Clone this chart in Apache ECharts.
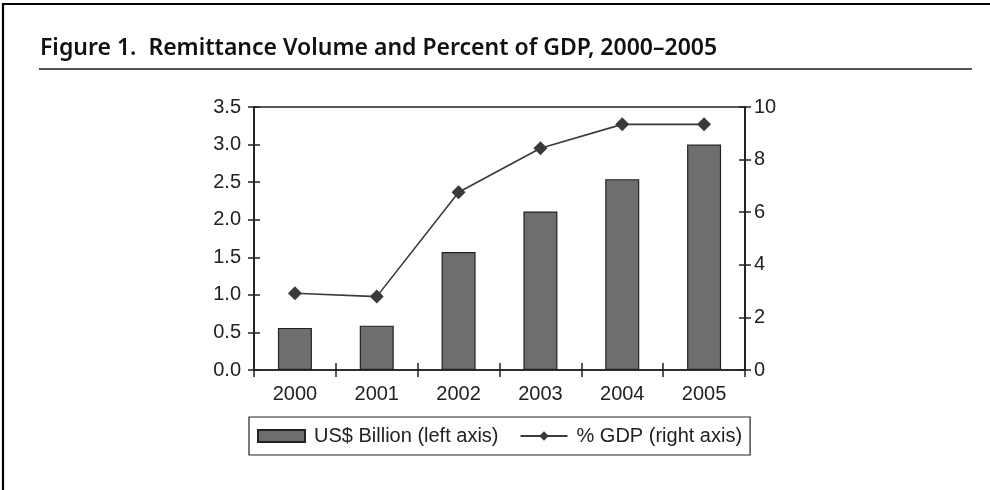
<!DOCTYPE html>
<html>
<head>
<meta charset="utf-8">
<script src="https://cdn.jsdelivr.net/npm/echarts@6/dist/echarts.min.js"></script>
<style>
  html, body { margin: 0; padding: 0; background: #fff; }
  #chart { width: 990px; height: 490px; }
</style>
</head>
<body>
<div id="chart"></div>
<script>
// Remittance volume (US$ billion) and share of GDP (%), 2000–2005
const years = ['2000', '2001', '2002', '2003', '2004', '2005'];
const usdBillion = [0.56, 0.59, 1.57, 2.11, 2.54, 3.0];
const gdpPercent = [2.92, 2.79, 6.76, 8.43, 9.34, 9.34];

const leftTicks = { min: 0, max: 3.5, interval: 0.5 };
const rightTicks = { min: 0, max: 10, interval: 2 };

const ink = '#222';
const labelFont = { color: ink, fontSize: 20, fontFamily: 'Liberation Sans, Arial, sans-serif' };

const chart = echarts.init(document.getElementById('chart'), null, { renderer: 'canvas' });

function yAxisPair(ticks, position, withLabels, inside, formatter) {
  return {
    type: 'value',
    position: position,
    min: ticks.min, max: ticks.max, interval: ticks.interval,
    axisLine: { show: true, lineStyle: { color: ink, width: 1.5 } },
    axisTick: { show: true, inside: inside, length: 6, lineStyle: { color: ink, width: 1.5 } },
    axisLabel: withLabels ? Object.assign({ margin: position === 'left' ? 13 : 9, formatter: formatter }, labelFont) : { show: false },
    splitLine: { show: false }
  };
}

chart.setOption({
  animation: false,
  backgroundColor: '#fff',
  grid: {
    left: 254, right: 245, top: 107, bottom: 120,
    show: true, borderColor: ink, borderWidth: 1.5, backgroundColor: 'transparent'
  },
  xAxis: [
    {
      type: 'category', data: years,
      axisLine: { lineStyle: { color: ink, width: 1.5 } },
      axisTick: { show: true, inside: false, length: 7, lineStyle: { color: ink, width: 1.5 } },
      axisLabel: Object.assign({ margin: 14 }, labelFont)
    },
    {
      type: 'category', data: years, position: 'bottom',
      axisLine: { show: false },
      axisTick: { show: true, inside: true, length: 7, lineStyle: { color: ink, width: 1.5 } },
      axisLabel: { show: false }
    }
  ],
  yAxis: [
    yAxisPair(leftTicks, 'left', true, false, v => v.toFixed(1)),
    yAxisPair(rightTicks, 'right', true, false, v => String(v)),
    yAxisPair(leftTicks, 'left', false, true),
    yAxisPair(rightTicks, 'right', false, true)
  ],
  legend: {
    left: 249, top: 417,
    padding: [9, 8, 9, 8],
    itemGap: 21,
    itemWidth: 47, itemHeight: 12,
    borderColor: ink, borderWidth: 1.2,
    textStyle: Object.assign({ padding: [0, 0, 0, 4] }, labelFont),
    data: [
      { name: 'US$ Billion (left axis)', icon: 'rect' },
      { name: '% GDP (right axis)' }
    ]
  },
  series: [
    {
      name: 'US$ Billion (left axis)',
      type: 'bar',
      xAxisIndex: 0, yAxisIndex: 0,
      data: usdBillion,
      barWidth: 34,
      itemStyle: { color: '#6d6e70', borderColor: ink, borderWidth: 1.2 }
    },
    {
      name: '% GDP (right axis)',
      type: 'line',
      xAxisIndex: 0, yAxisIndex: 1,
      data: gdpPercent,
      symbol: 'diamond', symbolSize: 14,
      lineStyle: { color: '#3a3a3a', width: 1.6 },
      itemStyle: { color: '#3a3a3a' }
    }
  ],
  graphic: [
    // page frame: top and left rules
    { type: 'line', shape: { x1: 2, y1: 4, x2: 990, y2: 4 }, style: { stroke: '#000', lineWidth: 2.2 } },
    { type: 'line', shape: { x1: 3, y1: 3, x2: 3, y2: 490 }, style: { stroke: '#000', lineWidth: 2.2 } },
    // title and its rule
    {
      type: 'text', x: 40, y: 37, scaleX: 1.0, scaleY: 1,
      style: {
        text: 'Figure 1.  Remittance Volume and Percent of GDP, 2000–2005',
        fill: '#111',
        font: '600 23px "Noto Sans", "Open Sans", sans-serif'
      }
    },
    { type: 'line', shape: { x1: 39, y1: 69, x2: 972, y2: 69 }, style: { stroke: '#555', lineWidth: 2 } }
  ]
});
</script>
</body>
</html>
